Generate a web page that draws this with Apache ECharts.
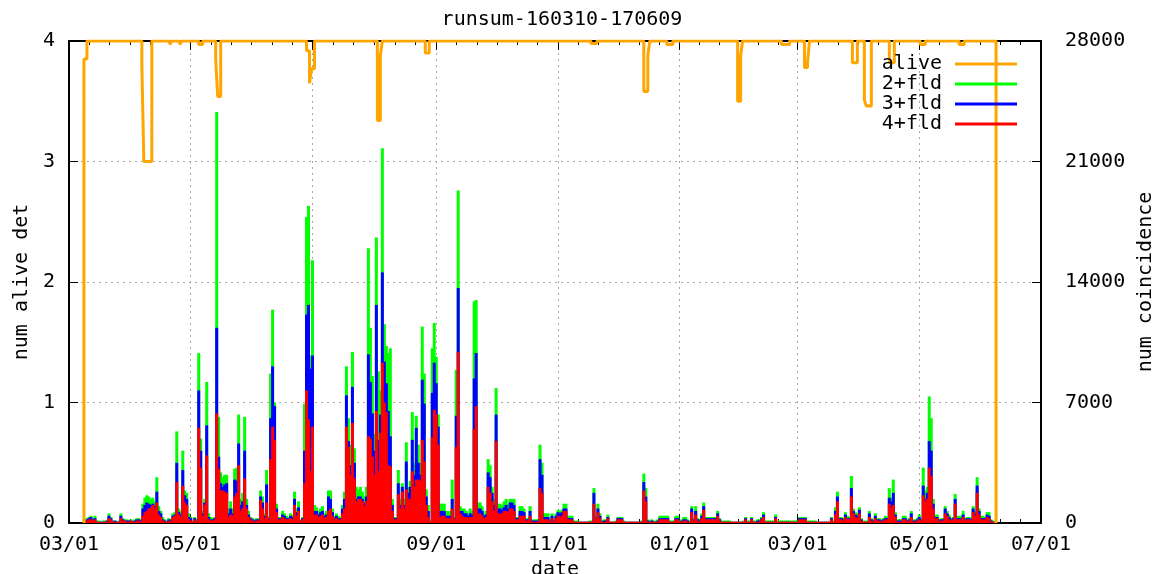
<!DOCTYPE html>
<html><head><meta charset="utf-8">
<script src="https://cdn.jsdelivr.net/npm/echarts@6/dist/echarts.min.js"></script>
<style>html,body{margin:0;padding:0;background:#fff}#c{width:1162px;height:574px}</style>
</head><body><div id="c"></div>
<script>
const chartTitle = 'runsum-160310-170609';
const xTickDates = ['2016-03-01 00:00','2016-05-01 00:00','2016-07-01 00:00','2016-09-01 00:00','2016-11-01 00:00',
  '2017-01-01 00:00','2017-03-01 00:00','2017-05-01 00:00','2017-07-01 00:00'];
const minorPerMajor = 6;
const firstRunDay = '2016-03-10 00:00'; // one value per day below, from this day
const legendNames = ['alive', '2+fld', '3+fld', '4+fld'];
const leftTicks = [0, 4, 1];        // min, max, step of num alive det
const rightTicks = [0, 28000, 7000]; // min, max, step of num coincidence

// num coincidence per day (2+fld, 3+fld, 4+fld)
const fld2 = [
280,350,420,280,420,140,140,70,140,140,140,560,350,140,140,70,140,560,280,210,
210,140,210,140,210,280,280,210,1120,1470,1610,1540,1400,1470,1260,2660,980,700,350,210,
140,280,210,560,630,5320,840,700,4200,1890,1750,560,350,140,350,210,9870,4900,700,1400,
8190,560,350,280,350,23870,6160,2940,2660,2800,2800,840,1260,840,3150,3220,6300,1400,1750,6160,
1400,700,350,280,210,280,280,1890,1540,560,3080,420,8680,12390,7000,1120,350,350,700,560,
420,350,560,490,1820,840,1260,210,350,6930,17780,18410,9730,15260,1050,910,700,840,980,560,
700,1890,1890,840,420,560,420,350,1050,1820,9100,6090,4550,9940,4340,2100,1960,2100,1820,1540,
2100,15960,11340,8540,5180,16590,8820,7700,21770,11550,10290,9870,10150,1400,350,350,3080,1400,2310,1400,
4690,2100,2450,6440,3500,6230,4550,3500,11410,8680,1960,1050,140,10150,11620,9660,6300,1120,1120,1120,
700,700,700,2520,350,8890,19320,980,840,840,700,560,840,700,12880,12950,1190,1190,980,560,
700,3710,3360,2100,1400,7840,1120,1120,1050,1260,1400,1120,1400,1400,1400,350,350,980,980,840,
280,280,980,210,210,210,210,4550,3500,560,560,560,210,560,210,560,770,700,770,1120,
1120,420,420,420,140,140,140,70,70,70,70,70,140,140,2030,420,1120,560,140,210,
210,490,70,70,70,140,350,350,350,140,70,70,70,70,70,70,70,70,140,2870,
2030,210,140,210,140,140,210,420,420,420,420,420,140,140,140,420,420,140,210,350,
350,210,140,980,280,980,280,210,560,1190,350,350,350,350,350,350,700,280,140,140,
140,140,140,70,70,70,70,70,70,140,350,140,140,350,140,140,210,210,350,630,
140,140,140,140,140,490,140,140,140,140,140,140,140,140,140,140,140,350,350,350,
350,140,140,140,140,140,70,70,70,70,70,70,70,350,140,910,1820,350,350,280,
630,420,350,2730,840,630,560,910,280,140,140,140,700,280,210,560,280,280,210,280,
420,350,2030,1470,2520,630,210,210,210,420,420,210,280,700,210,210,280,490,280,3220,
1890,2100,7350,6090,1400,490,490,210,280,280,980,700,490,280,350,1680,420,420,420,700,
280,350,350,280,980,700,2660,840,420,420,350,630,630,210,140,70
];
const fld3 = [
210,280,350,210,280,70,70,70,70,70,140,420,280,70,140,70,70,420,210,140,
140,140,140,70,140,210,210,140,840,1050,1190,1120,1050,1120,980,1820,700,560,210,140,
70,210,140,420,490,3500,630,490,3080,1610,1400,350,280,70,280,140,7700,4200,560,1190,
5670,350,210,210,280,11340,3850,2310,2100,2240,2310,560,840,560,2520,2450,4620,1050,1260,4200,
1050,490,280,210,140,210,210,1540,1190,420,2240,280,6090,9100,6790,840,280,280,490,420,
280,280,420,350,1400,630,910,140,280,4200,12110,12670,8960,9730,700,700,490,630,700,420,
490,1540,1400,630,280,420,280,280,840,1400,7420,4760,3360,7910,3500,1400,1540,1540,1400,1190,
1540,9800,8190,6370,4200,12670,4830,6300,14560,9380,8120,6510,5040,1050,280,280,2310,1050,2100,1050,
3570,1750,2100,4830,2800,5530,3500,2800,8330,6930,1540,700,70,7560,9310,8120,5600,700,700,700,
420,420,420,1400,280,6230,13650,700,700,560,560,420,560,490,8400,9870,840,840,700,420,
490,2940,2660,1750,1050,6300,840,840,770,910,1050,840,1190,1190,1050,280,280,700,700,630,
210,210,700,140,140,140,140,3710,2800,350,350,350,140,420,140,420,630,560,630,840,
840,280,280,280,70,70,70,70,70,70,70,70,70,70,1750,280,840,420,70,140,
140,350,70,70,70,70,280,280,280,70,70,70,70,70,70,70,70,70,70,2380,
1540,140,70,140,70,70,140,280,280,280,280,280,70,70,70,280,280,70,140,210,
210,140,70,840,210,700,210,140,420,980,280,280,280,280,280,280,560,210,70,70,
70,70,70,70,70,70,70,70,70,70,280,70,70,280,70,70,140,140,280,490,
70,70,70,70,70,350,70,70,70,70,70,70,70,70,70,70,70,280,280,280,
280,70,70,70,70,70,70,70,70,70,70,70,70,280,70,700,1540,280,280,210,
490,280,280,2030,700,490,420,770,210,70,70,70,560,210,140,420,210,210,140,210,
280,280,1470,1260,1750,490,140,140,140,280,280,140,210,560,140,140,210,350,210,2170,
1400,1750,4760,4200,1120,350,350,140,210,210,840,560,350,210,280,1400,280,280,280,490,
210,280,280,210,840,560,2170,700,280,280,280,490,420,140,70,70
];
const fld4 = [
140,210,210,140,210,70,70,0,70,70,70,280,210,70,70,70,70,280,140,140,
70,70,140,70,70,140,140,70,420,630,700,840,910,1050,840,1190,490,350,140,70,
70,140,70,350,420,2380,490,350,2170,1190,1050,210,140,70,210,70,5530,3220,420,1050,
3920,210,140,140,210,6370,3150,1890,1890,1820,1750,350,490,420,1540,1750,3360,700,840,2590,
840,350,210,140,70,140,140,1330,840,280,1190,210,3710,5600,4830,630,210,210,350,280,
210,210,280,210,1050,420,700,70,210,2310,7700,6020,3010,5600,490,490,350,420,490,280,
350,700,840,420,210,280,210,210,560,840,5600,4410,2800,5810,2590,1260,1400,1400,1260,980,
1260,5040,4900,3850,2800,6510,3010,5250,9310,7000,6440,3360,3290,700,210,210,1680,840,1820,840,
1960,1400,1400,3010,2100,2520,2520,2450,4830,3570,1050,350,70,4970,6580,6300,4550,350,420,420,
280,280,280,840,210,4410,9940,560,420,350,350,280,350,350,5460,6790,560,560,420,280,
350,2100,1750,1260,700,4760,560,560,560,700,700,630,840,840,700,210,210,420,420,420,
140,140,420,70,70,70,70,2030,1750,210,210,210,70,280,70,280,420,350,420,700,
700,210,210,210,70,70,70,70,70,70,70,70,70,70,1120,210,630,280,70,70,
70,280,70,70,70,70,210,210,210,70,70,70,70,70,70,70,70,70,70,1890,
1260,70,70,70,70,70,70,210,210,210,210,210,70,70,70,210,210,70,70,140,
140,70,70,630,140,490,140,70,280,770,210,210,210,210,210,210,420,140,70,70,
70,70,70,70,70,70,70,70,70,70,210,70,70,210,70,70,70,70,210,350,
70,70,70,70,70,280,70,70,70,70,70,70,70,70,70,70,70,210,210,210,
210,70,70,70,70,70,70,70,70,70,70,70,70,210,70,490,1260,210,210,140,
350,210,210,1540,560,350,280,560,140,70,70,70,350,140,70,280,140,140,70,140,
210,210,1120,910,1050,350,70,70,70,210,210,70,140,350,70,70,140,210,140,1610,
1260,1400,3220,2730,840,280,280,70,140,140,560,420,210,140,210,1120,210,210,210,350,
140,210,210,140,630,420,1750,490,210,210,210,350,280,70,70,70
];

// num alive det: value holds from each time until the next one
const aliveTimes = [
'2016-03-08 12:00','2016-03-08 12:00','2016-03-10 00:00','2016-04-06 12:00','2016-04-07 12:00',
'2016-04-11 12:00','2016-04-20 12:00','2016-04-21 12:00','2016-04-25 12:00','2016-04-26 12:00',
'2016-05-05 00:00','2016-05-07 00:00','2016-05-13 12:00','2016-05-14 12:00','2016-05-16 00:00',
'2016-06-28 00:00','2016-06-29 12:00','2016-06-30 12:00','2016-07-02 00:00','2016-08-02 12:00',
'2016-08-04 00:00','2016-08-05 00:00','2016-08-26 12:00','2016-08-28 12:00','2016-11-17 12:00',
'2016-11-20 12:00','2016-12-14 00:00','2016-12-16 00:00','2016-12-17 00:00','2016-12-25 12:00',
'2016-12-28 12:00','2017-01-30 00:00','2017-01-31 12:00','2017-02-01 12:00','2017-02-21 00:00',
'2017-02-25 00:00','2017-03-04 12:00','2017-03-06 00:00','2017-03-07 00:00','2017-03-28 12:00',
'2017-03-31 00:00','2017-04-03 12:00','2017-04-04 12:00','2017-04-07 00:00','2017-04-16 00:00',
'2017-04-18 12:00','2017-05-01 12:00','2017-05-04 00:00','2017-05-21 00:00','2017-05-23 12:00',
'2017-06-08 12:00'
];
const aliveValues = [
0,3.85,4,3.8,3.0,
4,3.97,4,3.97,4,
3.97,4,3.85,3.54,4,
3.92,3.65,3.77,4,3.34,
3.88,4,3.9,4,3.98,
4,3.58,3.88,4,3.97,
4,3.5,3.88,4,3.97,
4,3.78,3.82,4,3.82,
4,3.51,3.46,4,3.82,
4,3.97,4,3.97,4,
0
];

const FONT = 'DejaVu Sans Mono';
const FS = 20;
const DAY = 86400000;
// parse 'YYYY-MM-DD HH:mm' as local time
function ts(s) {
  const m = s.match(/(\d+)-(\d+)-(\d+) (\d+):(\d+)/);
  return new Date(+m[1], +m[2] - 1, +m[3], +m[4], +m[5]).getTime();
}
const runStart = new Date(ts(firstRunDay));
function dayTs(i) { return new Date(runStart.getFullYear(), runStart.getMonth(), runStart.getDate() + i).getTime(); }
function pad(n) { return (n < 10 ? '0' : '') + n; }
function fmt(v) { const d = new Date(v + DAY / 2); return pad(d.getMonth() + 1) + '/' + pad(d.getDate()); }
const xTicks = xTickDates.map(ts);
const xMinorTicks = [];
for (let k = 0; k + 1 < xTicks.length; k++) {
  for (let j = 1; j < minorPerMajor; j++) xMinorTicks.push(xTicks[k] + (xTicks[k + 1] - xTicks[k]) * j / minorPerMajor);
}
const X0 = xTicks[0], X1 = xTicks[xTicks.length - 1];
const txt = { fontFamily: FONT, fontSize: FS, color: '#000' };
const gridStyle = { color: '#a8a8a8', type: [2, 4], width: 1 };

const chart = echarts.init(document.getElementById('c'), null, { renderer: 'canvas' });
// impulse-like bars drawn through the axes' own coordinate system
const barSeries = (name, arr, color) => ({
  name, type: 'custom', xAxisIndex: 0, yAxisIndex: 1,
  data: arr.map((v, i) => [dayTs(i), v]),
  encode: { x: 0, y: 1 },
  itemStyle: { color },
  renderItem: (params, api) => {
    const t = api.value(0);
    const top = api.coord([t, api.value(1)]);
    const base = api.coord([t, 0]);
    return { type: 'rect', shape: { x: top[0] - 1.5, y: top[1], width: 3, height: base[1] - top[1] },
      style: { fill: color } };
  }
});
const xBase = (position, ticks, len, showLine) => ({
  type: 'value', position, min: X0, max: X1,
  axisLine: { show: showLine, onZero: false, lineStyle: { color: '#000', width: 2 } },
  axisTick: { show: true, inside: true, length: len, customValues: ticks, lineStyle: { color: '#000' } },
  axisLabel: { show: false }, splitLine: { show: false }
});
chart.setOption({
  animation: false,
  backgroundColor: '#ffffff',
  title: { text: chartTitle, left: 557, top: 5, textAlign: 'center',
    textStyle: { fontFamily: FONT, fontSize: FS, fontWeight: 'normal', color: '#000' } },
  legend: {
    data: legendNames.map(n => ({ name: n, icon: 'rect' })),
    orient: 'vertical', align: 'right', right: 140, top: 49,
    itemWidth: 62, itemHeight: 3, itemGap: 0, selectedMode: false,
    textStyle: Object.assign({ lineHeight: 20, padding: [0, 8, 0, 0] }, txt)
  },
  grid: { left: 69, right: 121, top: 41, bottom: 51, containLabel: false, outerBoundsMode: 'none' },
  xAxis: [
    Object.assign(xBase('bottom', xTicks, 9, true), {
      name: 'date', nameLocation: 'middle', nameGap: 32, nameTextStyle: txt,
      axisLabel: Object.assign({ show: true, formatter: fmt, margin: 12, customValues: xTicks, hideOverlap: false }, txt),
      splitLine: { show: true, lineStyle: gridStyle }
    }),
    xBase('top', xTicks, 9, true),
    xBase('bottom', xMinorTicks, 4, false),
    xBase('top', xMinorTicks, 4, false)
  ],
  yAxis: [{
    type: 'value', min: leftTicks[0], max: leftTicks[1], interval: leftTicks[2], position: 'left',
    name: 'num alive det', nameLocation: 'middle', nameGap: 36, nameRotate: 90, nameTextStyle: txt,
    axisLine: { show: true, lineStyle: { color: '#000', width: 2 } },
    axisTick: { show: true, inside: true, length: 9, lineStyle: { color: '#000' } },
    axisLabel: Object.assign({ margin: 14, formatter: v => String(v) }, txt),
    splitLine: { show: true, lineStyle: gridStyle }
  }, {
    type: 'value', min: rightTicks[0], max: rightTicks[1], interval: rightTicks[2], position: 'right',
    name: 'num coincidence', nameLocation: 'middle', nameGap: 82, nameRotate: 90, nameTextStyle: txt,
    axisLine: { show: true, lineStyle: { color: '#000', width: 2 } },
    axisTick: { show: true, inside: true, length: 9, lineStyle: { color: '#000' } },
    axisLabel: Object.assign({ margin: 24, formatter: v => String(v) }, txt),
    splitLine: { show: false }
  }],
  series: [
    { name: 'alive', type: 'line', step: 'end', xAxisIndex: 0, yAxisIndex: 0,
      data: aliveTimes.map((t, i) => [ts(t), aliveValues[i]]),
      showSymbol: false, symbol: 'none', lineStyle: { color: '#ffa500', width: 3 },
      itemStyle: { color: '#ffa500' }, z: 3 },
    barSeries('2+fld', fld2, '#00ff00'),
    barSeries('3+fld', fld3, '#0000ff'),
    barSeries('4+fld', fld4, '#ff0000')
  ]
});
</script>
</body></html>
